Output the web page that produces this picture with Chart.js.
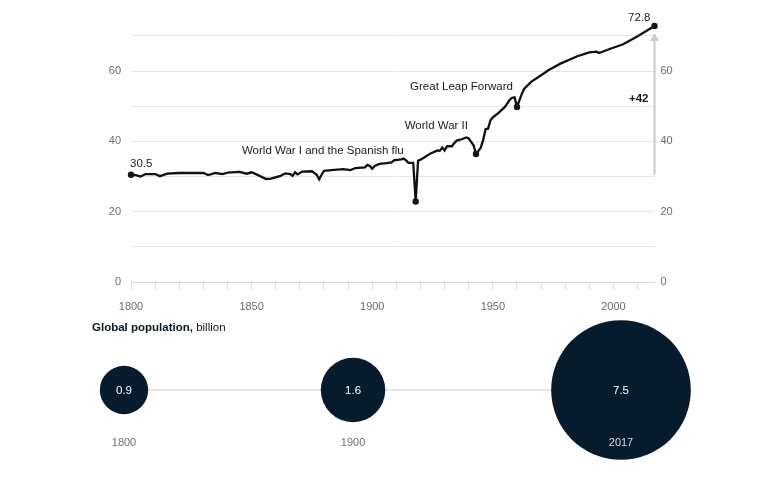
<!DOCTYPE html>
<html>
<head>
<meta charset="utf-8">
<script src="https://cdn.jsdelivr.net/npm/chart.js@4/dist/chart.umd.min.js"></script>
<style>
  html, body { margin: 0; padding: 0; background: #ffffff; }
  #wrap { position: relative; width: 767px; height: 480px; overflow: hidden; }
  #main { position: absolute; left: 0; top: 0; }
  #pop { position: absolute; left: 0; top: 300px; }
  #title { position: absolute; left: 92px; top: 321px; font-family: "Liberation Sans", Arial, sans-serif;
           font-size: 11.5px; color: #0b1722; white-space: nowrap; }
  #title b { font-weight: bold; }
</style>
</head>
<body>
<div id="wrap">
  <canvas id="main" width="767" height="315"></canvas>
  <canvas id="pop" width="767" height="180"></canvas>
  <div id="title"><b>Global population,</b> billion</div>
</div>
<script>
// ---- Data: global life expectancy (years) ----
const years = [1800,1802,1804,1806,1810,1812,1815,1820,1825,1830,1832,1835,1838,1840,1845,1848,
  1850,1852,1856,1858,1862,1864,1866,1867,1868,1869,1871,1875,1877,1878,1879,1880,1883,1888,1891,1893,
  1897,1898,1899,1900,1901,1903,1906,1908,1909,1912,1913,1914,1915,1917,1918,1919,
  1920,1922,1924,1927,1928,1929,1930,1931,1933,1934,1935,1937,1939,1940,1942,1943,
  1945,1946,1947,1948,1949,1950,1952,1955,1957,1958,1959,1960,1962,1963,1966,1970,
  1973,1978,1985,1990,1993,1994,1999,2004,2010,2017];
const lifeExp = [30.5,30.4,30.0,30.7,30.7,30.1,30.8,31.0,31.0,31.0,30.4,31.0,30.7,31.1,31.3,30.8,
  31.2,30.6,29.3,29.4,30.2,30.9,30.7,30.2,31.2,30.6,31.4,31.5,30.5,29.2,30.5,31.6,31.8,32.1,31.8,32.4,
  32.6,33.3,33.0,32.2,33.0,33.6,33.8,34.0,34.6,34.9,35.1,34.6,33.9,33.9,22.9,34.5,
  34.8,35.6,36.5,37.4,37.3,38.2,37.4,38.6,38.6,39.5,40.2,40.6,41.1,40.8,38.9,36.4,
  38.2,40.5,43.5,43.6,46.0,46.8,47.9,49.8,51.8,52.4,52.5,49.8,53.5,55.0,57.0,58.8,
  60.2,62.1,64.2,65.3,65.5,65.1,66.4,67.6,69.9,72.8];
const markedYears = [1800, 1918, 1943, 1960, 2017];
const xTickValues = [1800,1810,1820,1830,1840,1850,1860,1870,1880,1890,1900,1910,1920,1930,1940,1950,1960,1970,1980,1990,2000,2010];
const xTickLabels = [1800, 1850, 1900, 1950, 2000];
const yGridValues = [0, 10, 20, 30, 40, 50, 60, 70];
const yTickLabels = [0, 20, 40, 60];
const annotationTexts = ["World War I and the Spanish flu", "World War II", "Great Leap Forward"];

// ---- Data: global population (billion) ----
const popYears = [1800, 1900, 2017];
const popValues = [0.9, 1.6, 7.5];

const FONT = '"Liberation Sans", Arial, sans-serif';
Chart.defaults.font.family = FONT;
Chart.defaults.font.size = 11;

const firstVal = lifeExp[0];
const lastVal = lifeExp[lifeExp.length - 1];
const lastYear = years[years.length - 1];
const gain = Math.round(lastVal - firstVal);

const setTicks = vals => axis => { axis.ticks = vals.map(v => ({ value: v })); };

const annotPlugin = {
  id: 'annot',
  beforeDatasetsDraw(chart) {
    const { ctx, scales: { x, y } } = chart;
    const ax = x.getPixelForValue(lastYear);
    const y0 = y.getPixelForValue(firstVal);
    const yTop = y.getPixelForValue(lastVal);
    ctx.save();
    ctx.strokeStyle = '#c9c9c9';
    ctx.fillStyle = '#c9c9c9';
    ctx.lineWidth = 2;
    ctx.beginPath();
    ctx.moveTo(ax, y0);
    ctx.lineTo(ax, yTop + 14);
    ctx.stroke();
    ctx.beginPath();
    ctx.moveTo(ax, yTop + 7);
    ctx.lineTo(ax - 4.5, yTop + 15);
    ctx.lineTo(ax + 4.5, yTop + 15);
    ctx.closePath();
    ctx.fill();
    ctx.restore();
  },
  afterDatasetsDraw(chart) {
    const { ctx, scales: { x, y } } = chart;
    ctx.save();
    ctx.textBaseline = 'middle';
    ctx.fillStyle = '#1a1a1a';
    ctx.font = '11.5px ' + FONT;
    ctx.textAlign = 'left';
    ctx.fillText(firstVal.toFixed(1), x.getPixelForValue(years[0]) - 1, y.getPixelForValue(firstVal) - 11);
    ctx.textAlign = 'right';
    ctx.fillText(lastVal.toFixed(1), x.getPixelForValue(lastYear) - 4, y.getPixelForValue(lastVal) - 8);
    ctx.fillText(annotationTexts[0], x.getPixelForValue(1918) - 12, y.getPixelForValue(37.3));
    ctx.fillText(annotationTexts[1], x.getPixelForValue(1943) - 8, y.getPixelForValue(44.5));
    ctx.fillText(annotationTexts[2], x.getPixelForValue(1960) - 4, y.getPixelForValue(55.4));
    ctx.font = 'bold 11.5px ' + FONT;
    ctx.fillText('+' + gain, x.getPixelForValue(lastYear) - 6, y.getPixelForValue(52));
    ctx.restore();
  }
};

new Chart(document.getElementById('main'), {
  type: 'line',
  data: {
    datasets: [{
      data: years.map((yr, i) => ({ x: yr, y: lifeExp[i] })),
      borderColor: '#111111',
      borderWidth: 2.3,
      tension: 0,
      clip: false,
      pointRadius: ctx => (ctx.raw && markedYears.includes(ctx.raw.x)) ? 3.2 : 0,
      pointHoverRadius: ctx => (ctx.raw && markedYears.includes(ctx.raw.x)) ? 3.2 : 0,
      pointBackgroundColor: '#0d1822',
      pointBorderWidth: 0
    }]
  },
  options: {
    responsive: false,
    animation: false,
    events: [],
    layout: { padding: { top: 26, bottom: 0, left: 0, right: 0 } },
    plugins: { legend: { display: false }, tooltip: { enabled: false } },
    scales: {
      x: {
        type: 'linear', min: 1800, max: 2017,
        afterBuildTicks: setTicks(xTickValues),
        afterFit: a => { a.height = 33; },
        ticks: { autoSkip: false, maxRotation: 0, color: '#6b6b6b', padding: 10,
                 callback: v => xTickLabels.includes(v) ? String(v) : '' },
        grid: { drawOnChartArea: false, drawTicks: true, tickLength: 8, color: '#dcdcdc' },
        border: { display: false }
      },
      y: {
        type: 'linear', position: 'left', min: 0, max: lastVal,
        afterBuildTicks: setTicks(yGridValues),
        afterFit: a => { a.width = 131; },
        ticks: { color: '#6b6b6b', padding: 10,
                 callback: v => yTickLabels.includes(v) ? String(v) : '' },
        grid: { color: ctx => (ctx.tick && ctx.tick.value === 0) ? '#d8d8d8' : '#e6e6e6', drawTicks: false, lineWidth: 1 },
        border: { display: false }
      },
      y2: {
        type: 'linear', position: 'right', min: 0, max: lastVal,
        afterBuildTicks: setTicks(yGridValues),
        afterFit: a => { a.width = 112.5; },
        ticks: { color: '#6b6b6b', padding: 6,
                 callback: v => yTickLabels.includes(v) ? String(v) : '' },
        grid: { display: false, drawTicks: false },
        border: { display: false }
      }
    }
  },
  plugins: [annotPlugin]
});

// ---- Population bubbles ----
const popRadius = v => 25.5 * Math.sqrt(v);
const popLabelPlugin = {
  id: 'popLabels',
  afterDatasetsDraw(chart) {
    const { ctx } = chart;
    const meta = chart.getDatasetMeta(0);
    ctx.save();
    ctx.textAlign = 'center';
    ctx.textBaseline = 'middle';
    meta.data.forEach((pt, i) => {
      const r = popRadius(popValues[i]);
      ctx.font = '11.5px ' + FONT;
      ctx.fillStyle = '#ffffff';
      ctx.fillText(popValues[i].toFixed(1), pt.x, pt.y + 1);
      ctx.font = '11px ' + FONT;
      ctx.fillStyle = r > 58 ? '#d5d9dd' : '#707070';
      ctx.fillText(String(popYears[i]), pt.x, pt.y + 53);
    });
    ctx.restore();
  }
};

new Chart(document.getElementById('pop'), {
  type: 'line',
  data: {
    datasets: [{
      data: popYears.map((yr, i) => ({ x: yr, y: 0 })),
      borderColor: '#dedede',
      borderWidth: 1.5,
      clip: false,
      pointRadius: ctx => popRadius(popValues[ctx.dataIndex]),
      pointHoverRadius: ctx => popRadius(popValues[ctx.dataIndex]),
      pointBackgroundColor: '#061c2c',
      pointBorderWidth: 0
    }]
  },
  options: {
    responsive: false,
    animation: false,
    events: [],
    layout: { padding: { top: 0, bottom: 0, left: 124, right: 146 } },
    plugins: { legend: { display: false }, tooltip: { enabled: false } },
    scales: {
      x: { type: 'linear', min: 1800, max: 2017, display: false },
      y: { type: 'linear', min: -1, max: 1, display: false }
    }
  },
  plugins: [popLabelPlugin]
});
</script>
</body>
</html>
